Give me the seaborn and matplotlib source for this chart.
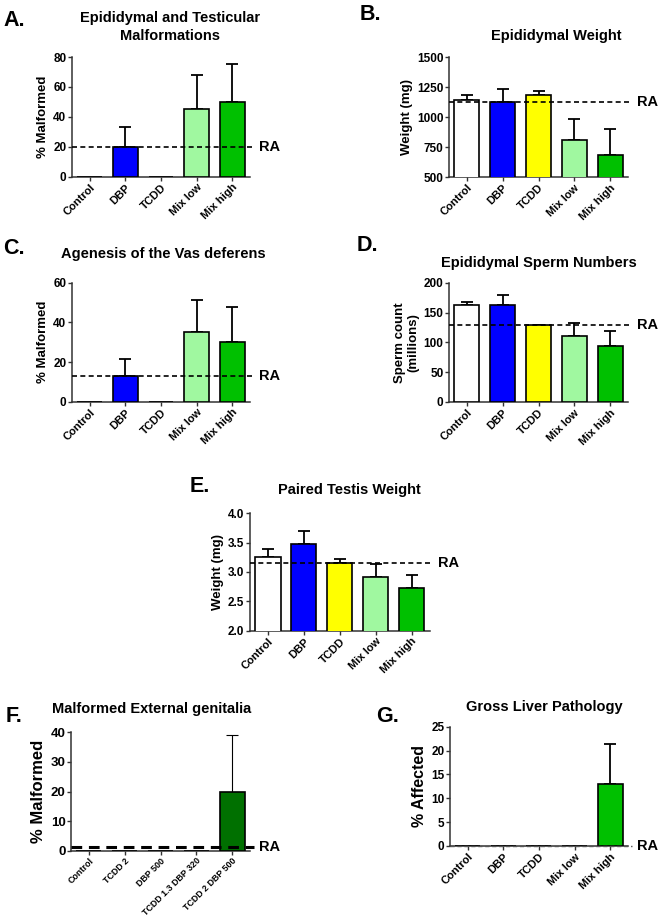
import numpy as np
import pandas as pd
import matplotlib
matplotlib.use('Agg')
import matplotlib.pyplot as plt
import seaborn as sns

# groups and colours
groups = ['Control', 'DBP', 'TCDD', 'Mix low', 'Mix high']
colors = ['#FFFFFF', '#0000FF', '#FFFF00', '#A0F8A0', '#00C000']
f_groups = ['Control', 'TCDD 2', 'DBP 500', 'TCDD 1.3 DBP 320', 'TCDD 2 DBP 500']

# A. epididymal and testicular malformations (%)
a_mean = [0, 20, 0, 45, 50]
a_top = [0, 33, 0, 68, 75]
a_ra = 19.7

# B. epididymal weight (mg)
b_mean = [1145, 1125, 1180, 805, 685]
b_top = [1180, 1235, 1220, 985, 900]
b_ra = 1125

# C. agenesis of the vas deferens (%)
c_mean = [0, 13, 0, 35, 30]
c_top = [0, 21.5, 0, 51.5, 47.5]
c_ra = 13.2

# D. epididymal sperm numbers (millions)
d_mean = [162, 162, 128.5, 110, 94.5]
d_top = [168, 179, 129.5, 133, 119]
d_ra = 128.5

# E. paired testis weight
e_mean = [3.25, 3.48, 3.15, 2.91, 2.73]
e_top = [3.39, 3.69, 3.22, 3.14, 2.955]
e_ra = 3.155

# F. malformed external genitalia (%)
f_mean = [0, 0, 0, 0, 20]
f_top = [0, 0, 0, 0, 39]
f_ra = 1.2

# G. gross liver pathology (%)
g_mean = [0, 0, 0, 0, 13]
g_top = [0, 0, 0, 0, 21.3]
g_ra = 0

W, H = 661, 924
sns.set_theme(style='ticks')
plt.rcParams['font.family'] = ['Liberation Sans', 'DejaVu Sans']
plt.rcParams['font.weight'] = 'bold'
plt.rcParams['axes.labelweight'] = 'bold'
plt.rcParams['text.color'] = 'black'
plt.rcParams['axes.labelcolor'] = 'black'
plt.rcParams['xtick.color'] = 'black'
plt.rcParams['ytick.color'] = 'black'

fig = plt.figure(figsize=(W / 100, H / 100), dpi=100)


def add_ax(left, right, top, bottom):
    return fig.add_axes([left / W, 1 - bottom / H, (right - left) / W, (bottom - top) / H])


def panel(ax, cats, mean, top, ra, ylim, yticks, ylabel, pal, ytick_fs=8.5, xtick_fs=8,
          ylabel_fs=9.5, err_lw=1.3, ra_style=None):
    df = pd.DataFrame({'group': cats, 'value': mean})
    sns.barplot(data=df, x='group', y='value', hue='group', palette=pal, legend=False,
                saturation=1, edgecolor='black', linewidth=1.2, width=0.7, ax=ax, zorder=3)
    m = np.array(mean, dtype=float)
    t = np.array(top, dtype=float)
    has = t > m
    xs = np.arange(len(cats))[has]
    ax.errorbar(xs, m[has], yerr=[np.zeros(has.sum()), (t - m)[has]], fmt='none',
                ecolor='black', elinewidth=err_lw, capsize=4.3, capthick=err_lw, zorder=2)
    ax.set_xlim(-0.5, len(cats) - 0.5)
    ax.set_ylim(*ylim)
    ax.set_yticks(yticks)
    ax.set_xlabel('')
    ax.set_ylabel(ylabel, fontsize=ylabel_fs, fontweight='bold', labelpad=3)
    for s in ['top', 'right']:
        ax.spines[s].set_visible(False)
    for s in ['left', 'bottom']:
        ax.spines[s].set_linewidth(1.1)
        ax.spines[s].set_color('#333333')
    ax.tick_params(axis='y', labelsize=ytick_fs, length=3, width=1, color='#333333', pad=1)
    ax.tick_params(axis='x', labelsize=xtick_fs, length=3, width=1, color='#333333', pad=1)
    for lab in ax.get_xticklabels():
        lab.set_rotation(45)
        lab.set_ha('right')
        lab.set_rotation_mode('anchor')
        lab.set_fontweight('bold')
    for lab in ax.get_yticklabels():
        lab.set_fontweight('bold')
    st = dict(color='black', lw=1.2, dashes=(3, 2))
    if ra_style:
        st.update(ra_style)
    ax.plot([-0.5, len(cats) - 0.4], [ra, ra], clip_on=False, zorder=5, **st)
    ax.text(len(cats) - 0.25, ra, 'RA', fontsize=10.5, fontweight='bold', va='center',
            ha='left', clip_on=False, color='black')


def ftext(x, y, s, size, ha='center'):
    fig.text(x / W, 1 - y / H, s, fontsize=size, fontweight='bold', ha=ha, va='center',
             color='black')


# A
ax = add_ax(72, 250, 57, 176.7)
panel(ax, groups, a_mean, a_top, a_ra, (0, 80), [0, 20, 40, 60, 80], '% Malformed', colors)
ftext(14, 21, 'A.', 15.5)
ftext(170, 18, 'Epididymal and Testicular', 10.5)
ftext(170, 36, 'Malformations', 10.5)

# B
ax = add_ax(449, 628, 57, 177)
panel(ax, groups, b_mean, b_top, b_ra, (500, 1500), [500, 750, 1000, 1250, 1500],
      'Weight (mg)', colors)
ftext(370, 15, 'B.', 15.5)
ftext(556, 36, 'Epididymal Weight', 10.5)

# C
ax = add_ax(72, 250, 282.7, 401.7)
panel(ax, groups, c_mean, c_top, c_ra, (0, 60), [0, 20, 40, 60], '% Malformed', colors)
ftext(14, 248, 'C.', 15.5)
ftext(163, 254, 'Agenesis of the Vas deferens', 10.5)

# D
ax = add_ax(449, 628, 282.7, 402)
panel(ax, groups, d_mean, d_top, d_ra, (0, 200), [0, 50, 100, 150, 200],
      'Sperm count\n(millions)', colors)
ftext(367, 246, 'D.', 15.5)
ftext(539, 263, 'Epididymal Sperm Numbers', 10.5)

# E
ax = add_ax(250, 429.5, 513.3, 630.7)
panel(ax, groups, e_mean, e_top, e_ra, (2.0, 4.0), [2.0, 2.5, 3.0, 3.5, 4.0],
      'Weight (mg)', colors)
ax.set_yticklabels(['2.0', '2.5', '3.0', '3.5', '4.0'], fontweight='bold')
ftext(200, 486, 'E.', 15.5)
ftext(349, 490, 'Paired Testis Weight', 10.5)

# F
ax = add_ax(71, 250, 732.3, 850.7)
panel(ax, f_groups, f_mean, f_top, f_ra, (0, 40), [0, 10, 20, 30, 40], '% Malformed',
      ['#FFFFFF'] * 4 + ['#007000'], ytick_fs=9.5, xtick_fs=6.4, ylabel_fs=12, err_lw=0.8,
      ra_style=dict(lw=2.2, dashes=(3.5, 2.2)))
ftext(14, 717, 'F.', 15.5)
ftext(52, 709, 'Malformed External genitalia', 10.5, ha='left')

# G
ax = add_ax(449.9, 628, 726.7, 846)
panel(ax, groups, g_mean, g_top, g_ra, (0, 25), [0, 5, 10, 15, 20, 25], '% Affected',
      colors, ylabel_fs=11.5, ra_style=dict(color='#555555', lw=1.0, dashes=(3, 2)))
ftext(388, 717, 'G.', 15.5)
ftext(544, 707, 'Gross Liver Pathology', 10.5)

fig.savefig('out.png', dpi=100, facecolor='white')
